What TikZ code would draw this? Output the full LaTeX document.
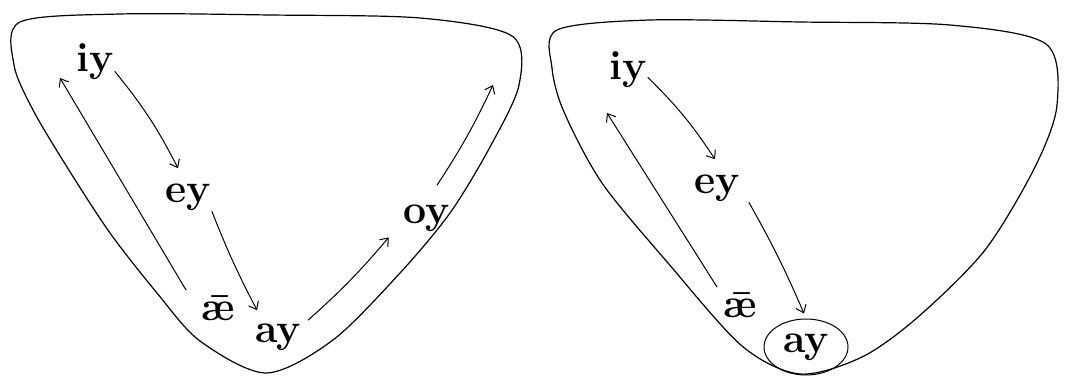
\documentclass[tikz,border=0pt]{standalone}
\usepackage{fontspec}
\usepackage{tikz}
\usetikzlibrary{arrows.meta,shapes.geometric}
\newcommand{\aemacron}{\ooalign{\ae\cr\hidewidth\kern0.12em\raisebox{-0.1ex}{¯}\hidewidth\cr}}
\tikzset{
  vowel/.style={font=\fontsize{41}{41}\selectfont\bfseries, inner sep=1pt, anchor=base},
  glide/.style={->, >={Straight Barb[length=7pt,width=11pt]}, line width=1pt},
  space/.style={line width=1.2pt, smooth cycle, tension=0.5}
}

\begin{document}
\begin{tikzpicture}[x=1pt,y=-1pt]
    \useasboundingbox (0,0) rectangle (1070,377);
    \draw[space] plot coordinates {(20,22) (120,14) (270,15) (420,18) (512,36) (519,85) (490,147) (450,213) (400,273) (333,340) (266,373) (200,341) (157,293) (110,233) (67,167) (33,110) (14,65)};
    \node[vowel] (iy) at (95,72) {iy};
    \node[vowel] (ey) at (188,202) {ey};
    \node[vowel] (ae) at (218,320) {\aemacron};
    \node[vowel] (ay) at (278,342) {ay};
    \node[vowel] (oy) at (427,223) {oy};
    \coordinate (iyL) at (60,78);
    \coordinate (oyR) at (493,85);
    \draw[glide] (iy.-25) to[bend left=6] ([shift={(-10,-14)}]ey.north);
    \draw[glide] (ey.south east) to[bend right=3] ([shift={(3,-12)}]ay.north west);
    \draw[glide] ([shift={(6,-2)}]ay.north east) to[bend right=4] ([shift={(-14,5)}]oy.south west);
    \draw[glide] ([shift={(10,-18)}]oy.north) to[bend right=4] (oyR);
    \draw[glide] ([shift={(-14,-10)}]ae.north west) -- (iyL);

    \draw[space] plot coordinates {(557,30) (650,20) (800,22) (950,25) (1046,44) (1057,105) (1035,167) (985,250) (918,317) (862,357) (800,374) (742,346) (668,263) (602,183) (564,112) (552,68)};
    \node[vowel] (iy2) at (628,80) {iy};
    \node[vowel] (ey2) at (717,193) {ey};
    \node[vowel] (ae2) at (740,317) {\aemacron};
    \node[vowel, anchor=center, draw, ellipse, line width=1pt, inner sep=0pt, minimum width=84pt, minimum height=56pt] (ay2) at (806,347) {ay};
    \coordinate (iyL2) at (607,113);
    \draw[glide] (iy2.-20) to[bend left=6] ([shift={(-2,-14)}]ey2.north);
    \draw[glide] ([shift={(8,0)}]ey2.south east) to[bend left=3] ([shift={(-2,-5)}]ay2.north);
    \draw[glide] ([shift={(-5,-10)}]ae2.north west) -- (iyL2);
\end{tikzpicture}
\end{document}
